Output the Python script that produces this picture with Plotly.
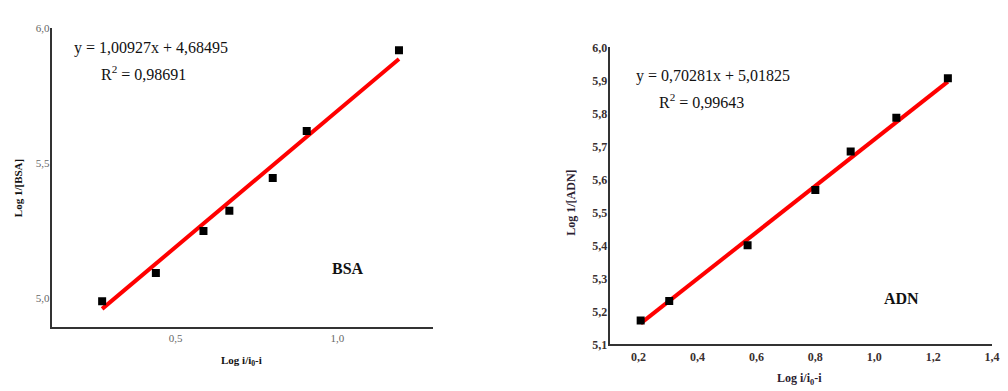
import plotly.graph_objects as go

# BSA data (log i/(i0-i) vs log 1/[BSA])
bsa_x = [0.273, 0.439, 0.586, 0.666, 0.800, 0.905, 1.190]
bsa_y = [4.989, 5.093, 5.249, 5.324, 5.445, 5.619, 5.918]
bsa_slope, bsa_icpt, bsa_r2 = 1.00927, 4.68495, 0.98691

# ADN data
adn_x = [0.207, 0.304, 0.570, 0.800, 0.920, 1.075, 1.250]
adn_y = [5.173, 5.232, 5.401, 5.568, 5.685, 5.787, 5.907]
adn_slope, adn_icpt, adn_r2 = 0.70281, 5.01825, 0.99643

bsa_xticks = [0.5, 1.0]
bsa_yticks = [5.0, 5.5, 6.0]
adn_xticks = [0.2, 0.4, 0.6, 0.8, 1.0, 1.2, 1.4]
adn_yticks = [5.1, 5.2, 5.3, 5.4, 5.5, 5.6, 5.7, 5.8, 5.9, 6.0]


def comma(v):
    return f"{v:.1f}".replace(".", ",")


def fit_line(xs, slope, icpt):
    x0, x1 = min(xs), max(xs)
    return [x0, x1], [slope * x0 + icpt, slope * x1 + icpt]


SERIF = "Liberation Serif"
W, H = 1008, 391

fig = go.Figure()

lx, ly = fit_line(bsa_x, bsa_slope, bsa_icpt)
fig.add_trace(go.Scatter(x=lx, y=ly, mode="lines", line=dict(color="#ff0000", width=4),
                         xaxis="x", yaxis="y", showlegend=False))
fig.add_trace(go.Scatter(x=bsa_x, y=bsa_y, mode="markers",
                         marker=dict(symbol="square", size=8, color="black"),
                         xaxis="x", yaxis="y", showlegend=False))

rx, ry = fit_line(adn_x, adn_slope, adn_icpt)
fig.add_trace(go.Scatter(x=rx, y=ry, mode="lines", line=dict(color="#ff0000", width=4),
                         xaxis="x2", yaxis="y2", showlegend=False))
fig.add_trace(go.Scatter(x=adn_x, y=adn_y, mode="markers",
                         marker=dict(symbol="square", size=8, color="black"),
                         xaxis="x2", yaxis="y2", showlegend=False))

axis_common = dict(showgrid=False, zeroline=False, showline=True, linecolor="#333333",
                   linewidth=2, ticks="")

fig.update_layout(
    width=W, height=H,
    margin=dict(l=0, r=0, t=0, b=0),
    paper_bgcolor="white", plot_bgcolor="white",
    xaxis=dict(domain=[52 / W, 436 / W], range=[0.117, 1.295], anchor="y",
               tickvals=bsa_xticks, ticktext=[comma(v) for v in bsa_xticks],
               tickfont=dict(family=SERIF, size=11, color="#666666"), **axis_common),
    yaxis=dict(domain=[(H - 332) / H, (H - 22) / H], range=[4.893, 6.0], anchor="x",
               tickvals=bsa_yticks, ticktext=[comma(v) for v in bsa_yticks],
               tickfont=dict(family=SERIF, size=11, color="#666666"),
               ticklabelstandoff=-2, **axis_common),
    xaxis2=dict(domain=[614 / W, 999 / W], range=[0.102, 1.4], anchor="y2",
                tickvals=adn_xticks, ticktext=[f"<b>{comma(v)}</b>" for v in adn_xticks],
                tickfont=dict(family=SERIF, size=12, color="#3a3030"), **axis_common),
    yaxis2=dict(domain=[(H - 350) / H, (H - 42) / H], range=[5.1, 6.0], anchor="x2",
                tickvals=adn_yticks, ticktext=[f"<b>{comma(v)}</b>" for v in adn_yticks],
                tickfont=dict(family=SERIF, size=12, color="#3a3030"),
                ticklabelstandoff=-2, **axis_common),
)

ann = []


def label(text, x, y, size, bold=False, angle=0, xanchor="center", color="#111111"):
    t = f"<b>{text}</b>" if bold else text
    ann.append(dict(text=t, x=x / W, y=1 - y / H, xref="paper", yref="paper",
                    xanchor=xanchor, yanchor="middle", showarrow=False, textangle=angle,
                    font=dict(family=SERIF, size=size, color=color)))


def fmt(v, nd):
    return f"{v:.{nd}f}".replace(".", ",")


# BSA panel text
label(f"y = {fmt(bsa_slope, 5)}x + {fmt(bsa_icpt, 5)}", 72, 43, 16, xanchor="left")
label(f"R<sup>2</sup> = {fmt(bsa_r2, 5)}", 100, 68, 16, xanchor="left")
label("BSA", 350, 271, 16, bold=True)
label("Log 1/[BSA]", 18, 188, 11, bold=True, angle=-90)
label("Log i/i<sub>0</sub>-i", 243, 367, 11, bold=True)

# ADN panel text
label(f"y = {fmt(adn_slope, 5)}x + {fmt(adn_icpt, 5)}", 638, 72, 16, xanchor="left")
label(f"R<sup>2</sup> = {fmt(adn_r2, 5)}", 662, 98, 16, xanchor="left")
label("ADN", 908, 302, 16, bold=True)
label("Log 1/[ADN]", 575, 203, 12, bold=True, angle=-90, color="#2a2030")
label("Log i/i<sub>0</sub>-i", 805, 386, 12, bold=True, color="#2a2030")

fig.update_layout(annotations=ann)
fig.write_html("out.html")
